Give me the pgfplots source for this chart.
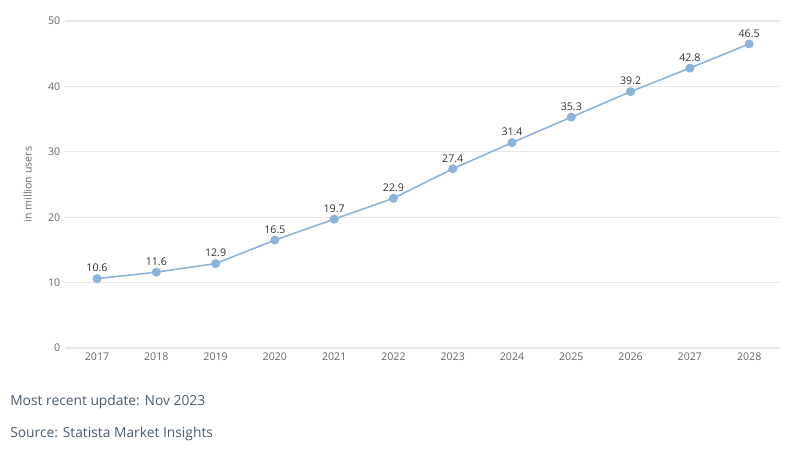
\documentclass[border=0pt]{standalone}
\usepackage{fontspec}
\setmainfont{Open Sans}
\usepackage{pgfplots}
\pgfplotsset{compat=1.18}
\definecolor{stline}{HTML}{8CB4DA}
\definecolor{stgrid}{HTML}{E6E6E6}
\definecolor{sttick}{HTML}{666666}
\definecolor{stlabel}{HTML}{333333}
\definecolor{stfoot}{HTML}{4A5C6E}

\pgfplotstableread{
year users
2017 10.6
2018 11.6
2019 12.9
2020 16.5
2021 19.7
2022 22.9
2023 27.4
2024 31.4
2025 35.3
2026 39.2
2027 42.8
2028 46.5
}\users

\begin{document}
\begin{tikzpicture}
% frame of the 800x460 px picture (1 px = 0.75bp)
\path (0,0) rectangle (600bp,345bp);
\begin{axis}[
    at={(48.75bp,84bp)}, anchor=south west,
    scale only axis,
    width=536.25bp, height=245.25bp,
    xmin=2016.46, xmax=2028.52,
    ymin=0, ymax=50,
    xtick=data,
    ytick={0,10,...,50},
    xticklabel style={font=\fontsize{8}{10}\selectfont, text=sttick},
    yticklabel style={font=\fontsize{8}{10}\selectfont, text=sttick},
    /pgf/number format/assume math mode=true,
    /pgf/number format/1000 sep={},
    axis line style={draw=none},
    tick style={draw=none},
    ymajorgrids=true,
    grid style={stgrid, line width=0.8pt},
    ylabel={in million users},
    ylabel style={font=\fontsize{8}{10}\selectfont, text=sttick},
    ylabel shift=5.5pt,
    clip=false,
    nodes near coords,
    point meta=explicit symbolic,
    nodes near coords style={font=\fontsize{8}{10}\selectfont, text=stlabel, yshift=1pt},
]
\addplot[stline, line width=1.2pt, mark=*, mark size=2.8pt, mark options={fill=stline, draw=stline}]
    table[x=year, y=users, meta=users] {\users};
\end{axis}
\node[anchor=base west, inner sep=0pt, font=\fontsize{10.4}{13}\selectfont, text=stfoot] at (7.5bp,41bp) {Most recent update: Nov 2023};
\node[anchor=base west, inner sep=0pt, font=\fontsize{10.4}{13}\selectfont, text=stfoot] at (7.5bp,17bp) {Source: Statista Market Insights};
\end{tikzpicture}
\end{document}
